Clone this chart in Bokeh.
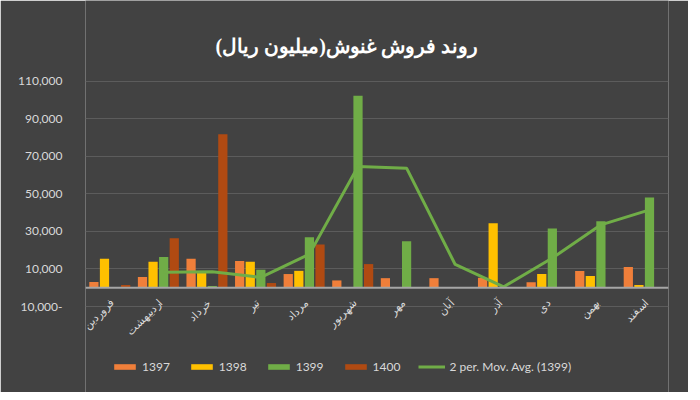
import math
from bokeh.plotting import figure
from bokeh.models import (FactorRange, Range1d, FixedTicker, Legend, LegendItem,
                          ColumnDataSource, Span, LabelSet)
from bokeh.transform import dodge
from bokeh.embed import file_html
from bokeh.resources import INLINE

months = ["فروردین", "اردیبهشت", "خرداد", "تیر", "مرداد", "شهریور",
          "مهر", "آبان", "آذر", "دی", "بهمن", "اسفند"]
s1397 = [3000, 5700, 15400, 14200, 7300, 3900, 5100, 5100, 5300, 2900, 8900, 11000]
s1398 = [15400, 13800, 8000, 13800, 9000, 300, 0, 0, 34300, 7300, 6200, 1400]
s1399 = [0, 16400, 900, 9600, 26900, 102200, 24800, 0, 0, 31500, 35400, 48100]
s1400 = [1400, 26400, 81700, 2500, 23000, 12600, 0, 0, 0, 0, 0, 0]
mov_months = months[1:]
mov_avg = [8300, 8500, 5500, 17900, 64600, 63700, 12400, 500, 15800, 33500, 41500]
y_ticks = [-10000, 10000, 30000, 50000, 70000, 90000, 110000]
y_labels = ["10,000-", "10,000", "30,000", "50,000", "70,000", "90,000", "110,000"]
series_names = ["1397", "1398", "1399", "1400"]
mov_name = "2 per. Mov. Avg. (1399)"
title_text = "روند فروش غنوش(میلیون ریال)"

BG = "#424242"
TXT = "#d9d9d9"
colors = ["#f07f3a", "#ffc000", "#70ad47", "#b04a12"]
line_color = "#70ad47"

src = ColumnDataSource(dict(m=months, a=s1397, b=s1398, c=s1399, d=s1400))
msrc = ColumnDataSource(dict(m=mov_months, v=mov_avg))

# plot area spans the full height; the value range is padded so that the
# -10,000..110,000 band sits where the reference draws it
p = figure(width=688, height=392, output_backend="svg", toolbar_location=None,
           title=None, x_axis_location=None,
           x_range=FactorRange(*months), y_range=Range1d(-55800, 153000),
           min_border_left=85, min_border_right=20, min_border_top=0,
           min_border_bottom=0)
p.background_fill_color = BG
p.border_fill_color = BG
p.outline_line_color = None

tsrc = ColumnDataSource(dict(m=[months[5]], y=[129000], t=[title_text]))
p.add_layout(LabelSet(x="m", y="y", text="t", source=tsrc, x_offset=-6,
                      text_align="center", text_baseline="middle",
                      text_font="DejaVu Sans", text_font_style="bold",
                      text_font_size="20px", text_color="white"))

offs = [-0.327, -0.109, 0.109, 0.327]
cols = ["a", "b", "c", "d"]
rends = []
for o, c, col in zip(offs, cols, colors):
    rends.append(p.vbar(x=dodge("m", o, range=p.x_range), top=c, width=0.19, bottom=0,
                        source=src, fill_color=col, line_color=None))

p.add_layout(Span(location=0, dimension="width", line_color="#a6a6a6", line_width=2))

lr = p.line(x=dodge("m", 0.109, range=p.x_range), y="v", source=msrc,
            line_color=line_color, line_width=3)

p.xgrid.grid_line_color = None
p.ygrid.ticker = FixedTicker(ticks=y_ticks)
p.ygrid.grid_line_color = "#5c5c5c"
p.ygrid.grid_line_width = 1

p.yaxis.ticker = FixedTicker(ticks=y_ticks)
p.yaxis.major_label_overrides = dict(zip(y_ticks, y_labels))
p.yaxis.axis_line_color = None
p.yaxis.major_tick_line_color = None
p.yaxis.minor_tick_line_color = None
p.yaxis.major_label_text_color = TXT
p.yaxis.major_label_text_font = "Lato"
p.yaxis.major_label_text_font_size = "12px"
p.yaxis.major_label_standoff = 17

# category labels, rotated, under the -10,000 line
lsrc = ColumnDataSource(dict(m=months, y=[-7000] * len(months)))
p.add_layout(LabelSet(x="m", y="y", text="m", source=lsrc, angle=math.pi / 4,
                      x_offset=2, text_align="right", text_baseline="middle",
                      text_font="DejaVu Sans", text_font_size="11px", text_color=TXT))

items = [LegendItem(label=n, renderers=[r]) for n, r in zip(series_names, rends)]
items.append(LegendItem(label=mov_name, renderers=[lr]))
leg = Legend(items=items, orientation="horizontal", location=(26, 18),
             glyph_width=27, glyph_height=7, label_standoff=4, spacing=18,
             padding=0, margin=0, background_fill_alpha=0, border_line_color=None,
             label_text_color=TXT, label_text_font="Lato", label_text_font_size="12px")
p.add_layout(leg)

open("out.html", "w").write(file_html(p, INLINE))
